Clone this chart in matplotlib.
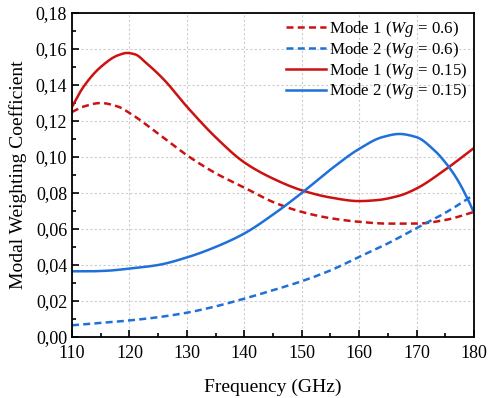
import matplotlib
matplotlib.use("Agg")
import matplotlib.pyplot as plt
from matplotlib.ticker import MultipleLocator, FuncFormatter
import numpy as np

plt.rcParams['font.family'] = ['Liberation Serif', 'DejaVu Serif']
plt.rcParams['mathtext.fontset'] = 'custom'
plt.rcParams['mathtext.rm'] = 'Liberation Serif'
plt.rcParams['mathtext.it'] = 'Liberation Serif:italic'

# Data
freq_m1_06 = [110, 112, 115, 118, 120, 125, 130, 135, 140, 145, 150, 155, 160, 165, 170, 175, 180]
m1_06 = [0.125, 0.128, 0.130, 0.128, 0.1245, 0.113, 0.101, 0.091, 0.083, 0.075, 0.0695, 0.066, 0.064, 0.063, 0.063, 0.065, 0.0695]

freq_m2_06 = [110, 115, 120, 125, 130, 135, 140, 145, 150, 155, 160, 165, 170, 175, 180]
m2_06 = [0.0065, 0.0078, 0.0092, 0.011, 0.0135, 0.017, 0.0213, 0.026, 0.031, 0.037, 0.0445, 0.052, 0.0605, 0.069, 0.079]

freq_m1_015 = [110, 112, 115, 118, 119.6, 121, 123, 126, 130, 135, 140, 145, 150, 155, 160, 163, 167, 170, 175, 180]
m1_015 = [0.1278, 0.139, 0.150, 0.1565, 0.1578, 0.157, 0.152, 0.143, 0.128, 0.111, 0.097, 0.088, 0.0815, 0.0775, 0.0755, 0.076, 0.0785, 0.0825, 0.093, 0.105]

freq_m2_015 = [110, 113, 116, 120, 125, 130, 135, 140, 145, 150, 155, 160, 164, 167, 170, 173, 175, 177, 179, 180]
m2_015 = [0.0365, 0.0365, 0.0368, 0.038, 0.040, 0.0442, 0.050, 0.0575, 0.068, 0.080, 0.093, 0.1045, 0.111, 0.1128, 0.111, 0.104, 0.097, 0.088, 0.076, 0.069]

labels = ['Mode 1 ($\\mathit{Wg}$ = 0.6)', 'Mode 2 ($\\mathit{Wg}$ = 0.6)',
          'Mode 1 ($\\mathit{Wg}$ = 0.15)', 'Mode 2 ($\\mathit{Wg}$ = 0.15)']

red = '#CC1111'
blue = '#1F70D8'

def smooth(x, y, n=400):
    x = np.asarray(x, float); y = np.asarray(y, float)
    xs = np.linspace(x[0], x[-1], n)
    # monotone cubic (PCHIP-like) interpolation through read points
    h = np.diff(x); d = np.diff(y) / h
    m = np.zeros_like(y)
    m[0] = d[0]; m[-1] = d[-1]
    for i in range(1, len(y) - 1):
        if d[i-1] * d[i] <= 0:
            m[i] = 0
        else:
            w1 = 2*h[i] + h[i-1]; w2 = h[i] + 2*h[i-1]
            m[i] = (w1 + w2) / (w1/d[i-1] + w2/d[i])
    idx = np.clip(np.searchsorted(x, xs) - 1, 0, len(x) - 2)
    t = (xs - x[idx]) / h[idx]
    h00 = 2*t**3 - 3*t**2 + 1; h10 = t**3 - 2*t**2 + t
    h01 = -2*t**3 + 3*t**2; h11 = t**3 - t**2
    ys = h00*y[idx] + h10*h[idx]*m[idx] + h01*y[idx+1] + h11*h[idx]*m[idx+1]
    return xs, ys

fig = plt.figure(figsize=(4.94, 3.98), dpi=100)
ax = fig.add_axes([72/494, 1 - 337/398, (474-72)/494, (337-13)/398])

lw = 1.8
dash = (0, (2.8, 1.7))
ax.plot(*smooth(freq_m1_06, m1_06), color=red, lw=lw, ls=dash, label=labels[0])
ax.plot(*smooth(freq_m2_06, m2_06), color=blue, lw=lw, ls=dash, label=labels[1])
ax.plot(*smooth(freq_m1_015, m1_015), color=red, lw=lw, label=labels[2])
ax.plot(*smooth(freq_m2_015, m2_015), color=blue, lw=lw, label=labels[3])

ax.set_xlim(110, 180)
ax.set_ylim(0, 0.18)
ax.xaxis.set_major_locator(MultipleLocator(10))
ax.xaxis.set_minor_locator(MultipleLocator(5))
ax.yaxis.set_major_locator(MultipleLocator(0.02))
ax.yaxis.set_minor_locator(MultipleLocator(0.01))
ax.yaxis.set_major_formatter(FuncFormatter(lambda v, p: f"{v:.2f}".replace('.', ',')))
ax.tick_params(which='both', direction='in', top=False, right=False, labelsize=13, width=1.2)
ax.tick_params(which='major', length=5)
ax.tick_params(which='minor', length=3)
ax.tick_params(axis='x', pad=6)
for s in ax.spines.values():
    s.set_linewidth(1.3)
ax.grid(True, which='major', color='#cccccc', ls=(0, (2, 2)), lw=0.8)

ax.set_xlabel('Frequency (GHz)', fontsize=14, labelpad=12)
ax.set_ylabel('Modal Weighting Coefficient', fontsize=14, labelpad=6)

leg = ax.legend(loc='upper right', fontsize=12.2, frameon=False, handlelength=2.35,
                handletextpad=0.2, labelspacing=0.05, borderpad=0.0, borderaxespad=0.35)

fig.savefig('out.png', dpi=100)
